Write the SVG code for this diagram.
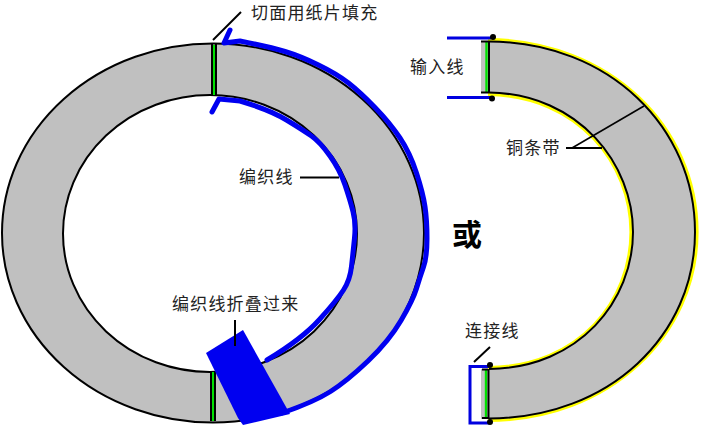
<svg xmlns="http://www.w3.org/2000/svg" width="703" height="428" viewBox="0 0 703 428">
<style>
text{font-family:"Noto Sans CJK SC","Liberation Serif",serif;font-size:17px;letter-spacing:1.2px;fill:#222}
.ln{fill:none;stroke:#000;stroke-width:2}
.thin{fill:none;stroke:#000;stroke-width:1.6}
.bl{fill:none;stroke:#0000f0;stroke-width:5;stroke-linecap:round;stroke-linejoin:round}
.wire{fill:none;stroke:#0000e0;stroke-width:3}
.gr{stroke:#00e000;stroke-width:2.4;fill:none}
.ye{fill:none;stroke:#ffff00;stroke-width:3.2}
</style>
<rect width="703" height="428" fill="#fff"/>
<g id="left-ring">
<ellipse cx="213" cy="233" rx="211" ry="189.500" fill="#c0c0c0" stroke="#000" stroke-width="2"/>
<ellipse cx="210" cy="233.500" rx="147" ry="138.500" fill="#fff" stroke="#000" stroke-width="2"/>
<line class="gr" x1="214" y1="45" x2="214" y2="95"/>
<line class="ln" x1="212" y1="44" x2="212" y2="96"/>
<line class="ln" x1="216" y1="44" x2="216" y2="96"/>
<line class="gr" x1="213" y1="372" x2="213" y2="421"/>
<line class="ln" x1="211" y1="372" x2="211" y2="421"/>
<line class="ln" x1="215" y1="372" x2="215" y2="421"/>
</g>
<g id="right-ring">
<path class="ye" d="M488 39.500C610 41 697 127 697 232C697 335 610 420 488 420.500"/>
<path class="ye" d="M488 94.500C580 96 631 165 631 232C631 300 580 367 488 367.500"/>
<path d="M481 41H489C610 42 695 128 695 232C695 335 610 418 489 419H481V369H489C580 368 633 300 633 232C633 165 580 94 489 93H481Z" fill="#c0c0c0"/>
<path class="ln" d="M489 41.500C610 42 695 128 695 232C695 335 610 418 489 418.500"/>
<path class="ln" d="M489 92.500C580 94 633 165 633 232C633 300 580 368 489 369"/>
<line class="gr" x1="486.500" y1="41" x2="486.500" y2="93"/>
<line class="ln" x1="489" y1="41" x2="489" y2="93"/>
<line class="ln" x1="481" y1="41.500" x2="489" y2="41.500"/>
<line class="ln" x1="481" y1="92.500" x2="489" y2="92.500"/>
<line class="gr" x1="486" y1="369" x2="486" y2="419"/>
<line class="ln" x1="488.500" y1="369" x2="488.500" y2="419"/>
<line class="ln" x1="482" y1="369.500" x2="488" y2="369.500"/>
<line class="ln" x1="482" y1="418" x2="488" y2="418"/>
</g>
<g id="connectors">
<path class="bl" d="M230 30L224 43L240 41Q270 47 285 51.500Q300 56 318.500 65Q337 74 348.500 83Q360 92 375 107.500Q390 123 400 138Q410 153 416.500 173Q423 193 425 206.500Q427 220 427 238.500Q427 257 423.500 267Q420 277 416.500 288.500Q413 300 401 320.500Q389 341 368 361Q347 381 330.500 391.500Q314 402 282 413"/>
<path class="bl" d="M212 112L219 99L240 101Q270 110 286.500 120Q303 130 311.500 136Q320 142 330 156Q340 170 345 185Q350 200 353 211.500Q356 223 354.500 238Q353 253 351.500 266.500Q350 280 343.500 290Q337 300 319.500 319.500Q302 339 267 360"/>
<polygon id="fold" points="206,353 243,330 290,414 243,425 238,418" fill="#0000f0"/>
<line class="wire" x1="447" y1="38" x2="491" y2="38"/>
<line class="wire" x1="447" y1="97.500" x2="491" y2="97.500"/>
<path class="wire" d="M489 366.500H470V423H489"/>
<circle cx="493" cy="37" r="3" fill="#000"/>
<circle cx="492" cy="98.500" r="3" fill="#000"/>
<circle cx="490" cy="365" r="3" fill="#000"/>
<circle cx="490" cy="422" r="3" fill="#000"/>
<line class="ln" x1="213" y1="40" x2="241" y2="12"/>
<line class="ln" x1="235" y1="320" x2="235" y2="346"/>
<line class="ln" x1="300" y1="177.500" x2="339" y2="177.500"/>
<line class="ln" x1="566" y1="148" x2="602" y2="148"/>
<line class="thin" x1="572" y1="148" x2="644" y2="106"/>
<line class="ln" x1="474" y1="362" x2="490" y2="347"/>
</g>
<g id="labels">
<text x="251" y="19">切面用纸片填充</text>
<text x="239" y="183">编织线</text>
<text x="172" y="310">编织线折叠过来</text>
<text x="410" y="73">输入线</text>
<text x="506" y="154">铜条带</text>
<text x="465" y="337">连接线</text>
<text x="452" y="245" style="font-size:30px;letter-spacing:0;font-weight:bold;fill:#000">或</text>
</g>
</svg>
